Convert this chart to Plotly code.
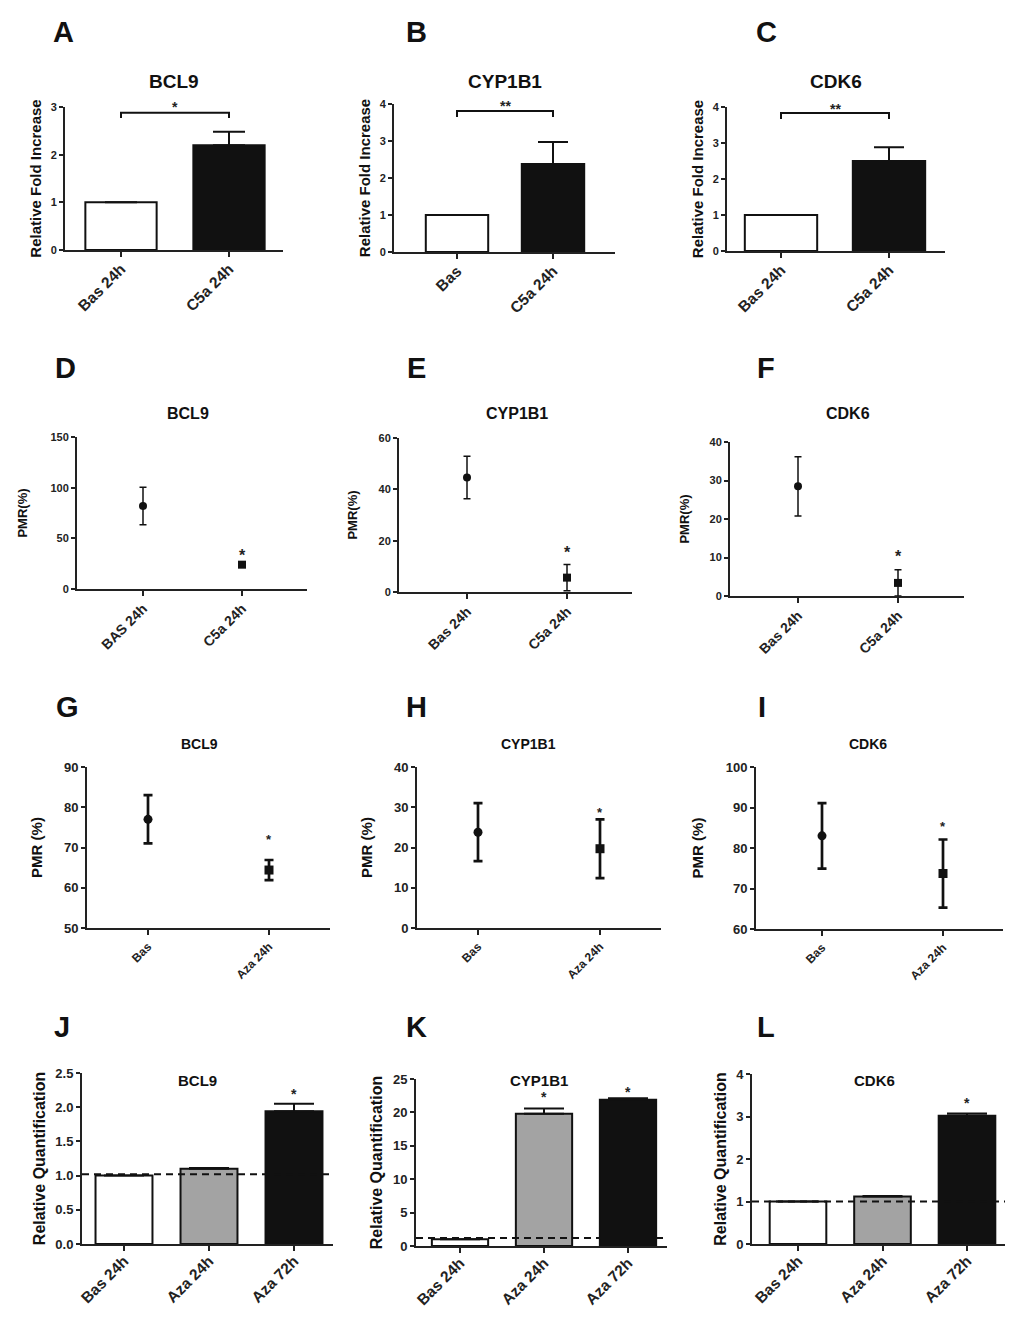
import plotly.graph_objects as go

# page body has an 8px default margin: figure is sized to fill the rest of the window
OFF = 8
W, H = 1020 - OFF, 1319 - OFF
FONT = "Liberation Sans"

# ---------------- data ----------------
# Row 1: relative fold increase (bars)
a_cats = ["Bas 24h", "C5a 24h"]
a_vals = [1.0, 2.2]
a_err = [0, 0.28]
b_cats = ["Bas", "C5a 24h"]
b_vals = [1.0, 2.38]
b_err = [0, 0.59]
c_cats = ["Bas 24h", "C5a 24h"]
c_vals = [1.0, 2.5]
c_err = [0, 0.38]
row1_sig = ["*", "**", "**"]

# Row 2: PMR (%) after C5a
d_cats = ["BAS 24h", "C5a 24h"]
d_vals = [82, 24]
d_err = [18.5, 1.0]
e_cats = ["Bas 24h", "C5a 24h"]
e_vals = [44.6, 5.6]
e_err = [8.3, 5.1]
f_cats = ["Bas 24h", "C5a 24h"]
f_vals = [28.5, 3.4]
f_err = [7.7, 3.4]
row2_star = [37.5, 16.8, 11.2]

# Row 3: PMR (%) after Aza
g_cats = ["Bas", "Aza 24h"]
g_vals = [77, 64.4]
g_err = [6.0, 2.5]
h_cats = ["Bas", "Aza 24h"]
h_vals = [23.8, 19.7]
h_err = [7.2, 7.3]
i_cats = ["Bas", "Aza 24h"]
i_vals = [83, 73.7]
i_err = [8.1, 8.4]
row3_star = [73.1, 29.6, 86.2]

# Row 4: relative quantification (bars)
j_cats = ["Bas 24h", "Aza 24h", "Aza 72h"]
j_vals = [1.0, 1.1, 1.94]
j_err = [0, 0.01, 0.11]
k_cats = ["Bas 24h", "Aza 24h", "Aza 72h"]
k_vals = [1.0, 19.8, 21.9]
k_err = [0, 0.8, 0.2]
l_cats = ["Bas 24h", "Aza 24h", "Aza 72h"]
l_vals = [1.0, 1.12, 3.02]
l_err = [0, 0.01, 0.05]
j_ref, k_ref, l_ref = 1.02, 1.2, 1.0
j_star = [(2, 2.25)]
k_star = [(1, 22.9), (2, 23.6)]
l_star = [(2, 3.41)]

genes = ["BCL9", "CYP1B1", "CDK6"]

# ---------------- helpers ----------------
fig = go.Figure()
annotations = []
shapes = []


def sfx(n):
    return "" if n == 1 else str(n)


def fx(x):
    return (x - OFF) / W


def fy(y):
    return 1 - (y - OFF) / H


def setup_axes(n, geom, cats, yrange, dtick, ytitle, tickfs, ytickfs, ytitlefs, standoff,
               lab_off=0):
    xl, xr, c0, s, ybot, ytop = geom
    fig.update_layout({
        f"xaxis{sfx(n)}": dict(
            domain=[fx(xl), fx(xr)], range=[(xl - c0) / s, (xr - c0) / s],
            anchor=f"y{sfx(n)}", tickmode="array",
            tickvals=list(range(len(cats))), ticktext=cats, tickangle=-45,
            ticks="outside", ticklen=5, tickwidth=1.5, tickcolor="#222",
            showline=True, linewidth=2, linecolor="#222", showgrid=False,
            zeroline=False, fixedrange=True, ticklabelstandoff=lab_off,
            tickfont=dict(family=FONT, size=tickfs, color="#222", weight="bold"),
        ),
        f"yaxis{sfx(n)}": dict(
            domain=[fy(ybot), fy(ytop)], range=yrange,
            anchor=f"x{sfx(n)}", tick0=yrange[0], dtick=dtick,
            ticks="outside", ticklen=4, tickwidth=1.5, tickcolor="#222",
            showline=True, linewidth=2, linecolor="#222", showgrid=False,
            zeroline=False, fixedrange=True,
            tickfont=dict(family=FONT, size=ytickfs, color="#222", weight="bold"),
            title=dict(text=ytitle, standoff=standoff,
                       font=dict(family=FONT, size=ytitlefs, color="#111", weight="bold")),
        ),
    })


def letter(txt, x, y):
    annotations.append(dict(text=txt, x=fx(x), y=fy(y), xref="paper", yref="paper",
                            showarrow=False, xanchor="center", yanchor="middle",
                            font=dict(family=FONT, size=29, color="#111", weight="bold")))


def title(txt, x, y, fs):
    annotations.append(dict(text=txt, x=fx(x), y=fy(y), xref="paper", yref="paper",
                            showarrow=False, xanchor="center", yanchor="middle",
                            font=dict(family=FONT, size=fs, color="#111", weight="bold")))


def star(n, txt, x, y, yrange, fs=14):
    # position in axis-domain units so marks above the axis top are still drawn
    frac = (y - yrange[0]) / (yrange[1] - yrange[0])
    annotations.append(dict(text=txt, x=x, y=frac, xref=f"x{sfx(n)}", yref=f"y{sfx(n)} domain",
                            showarrow=False, xanchor="center", yanchor="middle", yshift=-4,
                            font=dict(family=FONT, size=fs, color="#222", weight="bold")))


def bars(n, vals, err, colors, bw, capw, lw=2):
    fig.add_trace(go.Bar(
        x=list(range(len(vals))), y=vals, width=bw,
        xaxis=f"x{sfx(n)}", yaxis=f"y{sfx(n)}",
        marker=dict(color=colors, line=dict(color="#111", width=lw)),
        error_y=dict(type="data", array=err, arrayminus=[0] * len(err), symmetric=False,
                     color="#111", thickness=2, width=capw),
        hoverinfo="skip", cliponaxis=False,
    ))


def points(n, vals, err, msize, capw, thick):
    fig.add_trace(go.Scatter(
        x=list(range(len(vals))), y=vals, mode="markers",
        xaxis=f"x{sfx(n)}", yaxis=f"y{sfx(n)}",
        marker=dict(symbol=["circle", "square"], size=msize, color="#111"),
        error_y=dict(type="data", array=err, symmetric=True, color="#111",
                     thickness=thick, width=capw),
        hoverinfo="skip", cliponaxis=False,
    ))


# ---------------- Row 1 ----------------
row1 = [
    (1, "A", a_cats, a_vals, a_err, [0, 3], 1, (65, 283, 121, 108, 250, 107), 0.66, 16, (2.77, 2.88, 3.08), 63),
    (2, "B", b_cats, b_vals, b_err, [0, 4], 1, (394, 615, 457, 96, 252, 104), 0.65, 15, (3.65, 3.81, 4.05), 416),
    (3, "C", c_cats, c_vals, c_err, [0, 4], 1, (727, 945, 781, 108, 251, 107), 0.67, 15, (3.67, 3.83, 4.05), 766),
]
for idx, (n, let, cats, vals, err, yr, dt, geom, bw, capw, br, lx) in enumerate(row1):
    setup_axes(n, geom, cats, yr, dt, "Relative Fold Increase", 15.5, 11, 15, 5, -3)
    bars(n, vals, err, ["white", "#111"], bw, capw)
    letter(let, lx, 32)
    title(genes[idx], (geom[0] + geom[1]) / 2, 81, 19)
    shapes.append(dict(type="path", xref=f"x{sfx(n)}", yref=f"y{sfx(n)}",
                       path=f"M 0,{br[0]} L 0,{br[1]} L 1,{br[1]} L 1,{br[0]}",
                       line=dict(color="#111", width=2)))
    star(n, row1_sig[idx], 0.5, br[2], yr, 14)

# ---------------- Row 2 ----------------
row2 = [
    (4, "D", d_cats, d_vals, d_err, [0, 150], 50, (77, 307, 143, 99, 589, 437), 65, 188, 20),
    (5, "E", e_cats, e_vals, e_err, [0, 60], 20, (399, 632, 467, 100, 592, 438), 416, 517, 18),
    (6, "F", f_cats, f_vals, f_err, [0, 40], 10, (730, 964, 798, 100, 596, 442), 766, 848, 17),
]
for idx, (n, let, cats, vals, err, yr, dt, geom, lx, tx, so) in enumerate(row2):
    setup_axes(n, geom, cats, yr, dt, "PMR(%)", 14, 11, 13, so, -1)
    points(n, vals, err, 8, 3.5, 1.5)
    letter(let, lx, 368)
    title(genes[idx], tx, 413, 16)
    star(n, "*", 1, row2_star[idx], yr, 16)

# ---------------- Row 3 ----------------
row3 = [
    (7, "G", g_cats, g_vals, g_err, [50, 90], 10, (87, 330, 148, 121, 928, 767), 67, 199),
    (8, "H", h_cats, h_vals, h_err, [0, 40], 10, (417, 661, 478, 122, 928, 767), 416, 528),
    (9, "I", i_cats, i_vals, i_err, [60, 100], 10, (756, 1003, 822, 121, 929, 767), 762, 868),
]
for idx, (n, let, cats, vals, err, yr, dt, geom, lx, tx) in enumerate(row3):
    setup_axes(n, geom, cats, yr, dt, "PMR (%)", 12, 13, 15, 18, 0)
    points(n, vals, err, 9, 4.5, 2.7)
    letter(let, lx, 707)
    title(genes[idx], tx, 744, 14)
    star(n, "*", 1, row3_star[idx], yr, 13)

# ---------------- Row 4 ----------------
row4 = [
    (10, "J", j_cats, j_vals, j_err, [0, 2.5], 0.5, (82, 333, 124, 85, 1244, 1073), 62, 197, j_ref, j_star),
    (11, "K", k_cats, k_vals, k_err, [0, 25], 5, (416, 667, 460, 84, 1246, 1079), 416, 539, k_ref, k_star),
    (12, "L", l_cats, l_vals, l_err, [0, 4], 1, (752, 1005, 798, 84.5, 1244, 1074), 766, 874, l_ref, l_star),
]
for idx, (n, let, cats, vals, err, yr, dt, geom, lx, tx, ref, stars) in enumerate(row4):
    setup_axes(n, geom, cats, yr, dt, "Relative Quantification", 15.5, 13, 16, 6, -5)
    if n == 10:
        fig.update_layout({f"yaxis{sfx(n)}": dict(tickformat=".1f")})
    bars(n, vals, err, ["white", "#a3a3a3", "#111"], 0.67, 20)
    letter(let, lx, 1027)
    title(genes[idx], tx, 1080, 15)
    shapes.append(dict(type="line", xref=f"x{sfx(n)} domain", yref=f"y{sfx(n)}",
                       x0=0, x1=1, y0=ref, y1=ref,
                       line=dict(color="#111", width=2, dash="7px,5px")))
    for sx, sy in stars:
        star(n, "*", sx, sy, yr, 14)

fig.update_layout(
    width=W, height=H, margin=dict(l=0, r=0, t=0, b=0),
    template="none", paper_bgcolor="white", plot_bgcolor="white",
    showlegend=False, annotations=annotations, shapes=shapes,
    font=dict(family=FONT, color="#111"),
)

fig.write_html("out.html", config={"displayModeBar": False})
